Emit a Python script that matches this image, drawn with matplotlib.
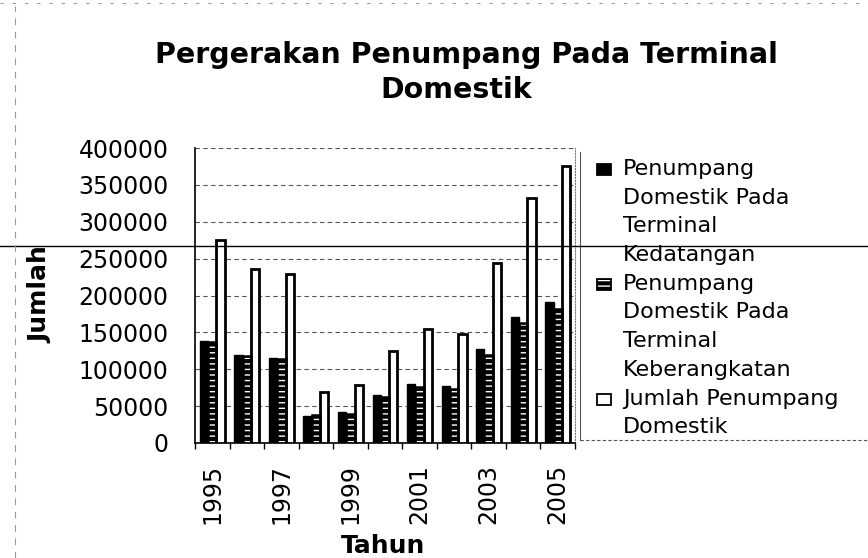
import numpy as np
import matplotlib.pyplot as plt
from matplotlib.lines import Line2D
from matplotlib.patches import Rectangle

plt.rcParams['font.family'] = ['DejaVu Sans']

# Data
tahun = ['1995', '1996', '1997', '1998', '1999', '2000',
         '2001', '2002', '2003', '2004', '2005']
kedatangan = [138000, 119000, 115000, 36000, 41500, 64500,
              79500, 77000, 128000, 171000, 191500]
keberangkatan = [137000, 118000, 113500, 37500, 39500, 62500,
                 76500, 73000, 119500, 162500, 182000]
jumlah = [275000, 236000, 228500, 69000, 79000, 125000,
          155000, 147500, 244500, 332000, 376000]

legend_lines = [
    ['Penumpang', 'Domestik Pada', 'Terminal', 'Kedatangan'],
    ['Penumpang', 'Domestik Pada', 'Terminal', 'Keberangkatan'],
    ['Jumlah Penumpang', 'Domestik'],
]

W, H = 868, 558


def fx(px):
    return px / W


def fy(py):
    return 1 - py / H


fig = plt.figure(figsize=(8.68, 5.58), dpi=100)
ax = fig.add_axes([fx(195), fy(443), fx(575) - fx(195), fy(148) - fy(443)])

x = np.arange(len(tahun))
w = 0.24

ax.bar(x - w, kedatangan, w, color='black', edgecolor='black',
       linewidth=1, zorder=3)
# striped bar: black fill, white horizontal hatch, then black outline
ax.bar(x, keberangkatan, w, color='black', edgecolor='white',
       hatch='---', linewidth=0, zorder=3)
ax.bar(x, keberangkatan, w, fill=False, edgecolor='black',
       linewidth=1.8, zorder=4)
ax.bar(x + w, jumlah, w, color='white', edgecolor='black',
       linewidth=2, zorder=3)

ax.set_ylim(0, 400000)
ax.set_xlim(-0.5, len(tahun) - 0.5)
ax.set_yticks(np.arange(0, 400001, 50000))
ax.tick_params(axis='y', labelsize=17, length=0, pad=19)

ax.set_xticks(x[::2])
ax.set_xticklabels(tahun[::2], rotation=90, fontsize=17)
ax.set_xticks(np.arange(-0.5, len(tahun), 1), minor=True)
ax.tick_params(axis='x', which='major', length=0, pad=15)
ax.tick_params(axis='x', which='minor', length=4, width=1)

ax.grid(axis='y', linestyle=(0, (4, 3)), color='#555555', linewidth=0.8, zorder=0)
ax.spines['top'].set_visible(False)
ax.spines['right'].set_linestyle(':')
ax.spines['right'].set_color('#777777')
ax.spines['left'].set_linewidth(1.2)
ax.spines['bottom'].set_linewidth(1.2)

fig.text(fx(383), fy(553), 'Tahun', fontsize=18, fontweight='bold',
         ha='center', va='baseline')
fig.text(fx(40), fy(295), 'Jumlah', fontsize=18, fontweight='bold',
         rotation=90, ha='center', va='center')

fig.text(fx(466), fy(63), 'Pergerakan Penumpang Pada Terminal', fontsize=20.5,
         fontweight='bold', ha='center', va='baseline')
fig.text(fx(456), fy(98), 'Domestik', fontsize=20.5,
         fontweight='bold', ha='center', va='baseline')

# legend drawn by hand: uniform line spacing, marker beside first line
step = 28.7
row = 0
for i, lines in enumerate(legend_lines):
    base = 175 + row * step
    box = (fx(597), fy(base)), fx(611) - fx(597), fy(base - 11) - fy(base)
    if i == 1:
        fig.add_artist(Rectangle(*box, transform=fig.transFigure, linewidth=0,
                                 facecolor='black', edgecolor='white', hatch='---'))
        fig.add_artist(Rectangle(*box, transform=fig.transFigure, linewidth=1.3,
                                 fill=False, edgecolor='black'))
    else:
        fig.add_artist(Rectangle(*box, transform=fig.transFigure, linewidth=1.3,
                                 edgecolor='black',
                                 facecolor='white' if i == 2 else 'black'))
    for ln in lines:
        fig.text(fx(623), fy(175 + row * step), ln, fontsize=16,
                 ha='left', va='baseline')
        row += 1

# legend border pieces (left edge and dashed bottom)
fig.add_artist(Line2D([fx(580), fx(580)], [fy(440), fy(152)], color='#555555',
                      linewidth=0.8, transform=fig.transFigure))
fig.add_artist(Line2D([fx(580), 1.0], [fy(440), fy(440)], color='#555555',
                      linewidth=0.8, linestyle=(0, (3, 2)), transform=fig.transFigure))

# scan artifacts of the source image
fig.add_artist(Line2D([0, 1], [fy(246), fy(246)], color='black', linewidth=1.0,
                      transform=fig.transFigure))
fig.add_artist(Line2D([fx(15), fx(15)], [0.0, 0.99], color='#999999', linewidth=0.8,
                      linestyle=(0, (6, 6)), transform=fig.transFigure))
fig.add_artist(Line2D([0.0, 1.0], [fy(3), fy(3)], color='#999999', linewidth=0.8,
                      linestyle=(0, (3, 8)), transform=fig.transFigure))

fig.savefig('out.png', dpi=100)
